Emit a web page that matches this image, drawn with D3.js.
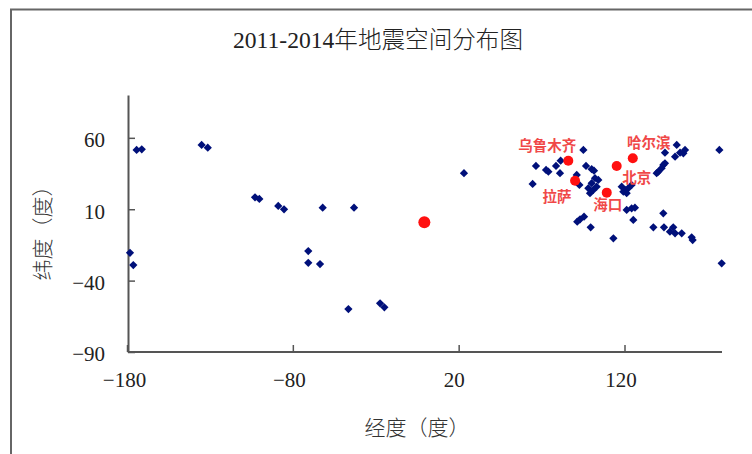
<!DOCTYPE html>
<html>
<head>
<meta charset="utf-8">
<script src="https://cdn.jsdelivr.net/npm/d3@7/dist/d3.min.js"></script>
<style>
  html, body { margin: 0; padding: 0; background: #fff; }
  svg { display: block; }
  .num { font-family: "Liberation Serif", "Noto Sans CJK SC", serif; }
  .cjk { font-family: "Liberation Serif", "Noto Sans CJK SC", serif; font-weight: 300; }
</style>
</head>
<body>
<svg id="chart" width="752" height="454"></svg>
<script>
// ---- data ----
const title = "2011-2014年地震空间分布图";
const xTitle = "经度（度）";
const yTitle = "纬度（度）";
const xTicks = [-180, -80, 20, 120];
const yTicks = [-90, -40, 10, 60];

// earthquake epicentres [longitude, latitude]
const quakeLon = [
  -174.2, -171.1, -135.0, -131.3, -102.8, -100.2, -88.8, -85.3, -62.0, -43.1, 23.2,
  -178.2, -176.2, -70.7, -70.7, -63.6, -46.5, -27.4, -24.8,
  95.2, 66.6, 72.7, 74.1, 78.7, 81.5, 81.1, 64.6, 96.8, 100.2, 101.6, 91.2, 92.8,
  102.2, 100.2, 98.2, 99.2, 103.2, 104.2, 101.2,
  118.3, 120.3, 122.3, 124.3, 119.3, 121.3,
  140.4, 142.4, 143.4, 139.4, 144.4, 144.4,
  151.5, 153.5, 155.5, 150.5, 156.5, 177.2,
  121.3, 124.3, 126.3, 125.3, 143.4, 137.4, 143.8, 149.4, 147.4, 150.5, 154.5,
  160.5, 161.1, 93.2, 91.5, 95.6, 99.6, 113.3, 178.6
];
const quakeLat = [
  51.5, 52.0, 55.0, 53.1, 18.3, 17.2, 12.3, 9.9, 11.1, 11.1, 35.2,
  -20.5, -29.1, -19.3, -27.5, -28.4, -59.9, -55.9, -58.7,
  51.5, 40.3, 37.5, 36.3, 40.3, 44.0, 35.2, 27.7, 40.3, 38.0, 37.0, 34.0, 27.0,
  31.7, 28.2, 24.7, 21.2, 25.8, 30.5, 23.5,
  25.8, 23.5, 24.7, 27.0, 22.3, 21.2,
  36.3, 38.7, 41.0, 35.2, 42.2, 49.6,
  55.0, 49.6, 49.2, 46.8, 51.5, 51.5,
  9.5, 10.6, 11.1, 2.5, 7.1, -2.7, -2.7, -2.7, -5.7, -6.9, -6.9,
  -9.7, -11.6, 2.9, 1.3, 4.8, -2.7, -10.4, -27.9
];

// reference cities
const cityNames = ["乌鲁木齐", "拉萨", "北京", "哈尔滨", "海口", ""];
const cityLon = [86.1, 90.2, 115.3, 125.0, 109.3, -0.7];
const cityLat = [44.0, 30.0, 40.3, 45.7, 21.6, 0.8];

// ---- layout / style ----
const svg = d3.select("#chart");
const x = d3.scaleLinear().domain([-180, 180]).range([127, 724]);
const y = d3.scaleLinear().domain([-90, 90]).range([352, 95]);
const axisColor = "#555";
const labelOffset = { "乌鲁木齐": [-21, -16], "拉萨": [-18, 15], "北京": [20, 11], "哈尔滨": [16, -17], "海口": [1, 11] };

// outer frame (left + top edges visible)
svg.append("path")
  .attr("d", "M11,454 L11,9.5 L752,9.5")
  .attr("fill", "none").attr("stroke", "#666").attr("stroke-width", 2);

// title
svg.append("text").attr("class", "cjk")
  .attr("x", 378).attr("y", 40)
  .attr("text-anchor", "middle").attr("dominant-baseline", "central")
  .attr("font-size", 24).attr("fill", "#222")
  .attr("textLength", 290).attr("lengthAdjust", "spacingAndGlyphs")
  .text(title);

// axes
const xAxis = d3.axisBottom(x).tickValues(xTicks).tickSizeInner(-7).tickSizeOuter(0).tickFormat(d3.format("d"));
const gx = svg.append("g").attr("transform", `translate(0,${y(-90)})`).call(xAxis);
gx.select(".domain").attr("stroke", axisColor).attr("stroke-width", 2)
  .attr("d", `M${x(-180) + 1},0H${x(180) - 2}`);
gx.selectAll(".tick line").attr("stroke", axisColor).attr("stroke-width", 1.5);
gx.selectAll(".tick text").attr("class", "num").attr("font-size", 21).attr("fill", "#222")
  .attr("y", 35).attr("dy", 0).text(d => d < 0 ? "\u2212" + Math.abs(d) : d)
  .attr("dx", d => d === -180 ? -3 : (d === 20 ? -5 : -4));

const yAxis = d3.axisLeft(y).tickValues(yTicks).tickSizeInner(-7).tickSizeOuter(0);
const gy = svg.append("g").attr("transform", `translate(${x(-180) + 1},0)`).call(yAxis);
gy.select(".domain").attr("stroke", axisColor).attr("stroke-width", 2);
gy.selectAll(".tick line").attr("stroke", axisColor).attr("stroke-width", 1.5);
gy.selectAll(".tick text").attr("class", "num").attr("font-size", 21).attr("fill", "#222")
  .attr("x", -23).attr("dy", "0.42em").text(d => d < 0 ? "\u2212" + Math.abs(d) : d);

// axis titles
svg.append("text").attr("class", "cjk")
  .attr("x", 417).attr("y", 428)
  .attr("text-anchor", "middle").attr("dominant-baseline", "central")
  .attr("font-size", 21).attr("fill", "#333")
  .text(xTitle);
svg.append("text").attr("class", "cjk")
  .attr("transform", "translate(43,228) rotate(-90)")
  .attr("text-anchor", "middle").attr("dominant-baseline", "central")
  .attr("font-size", 21).attr("fill", "#333")
  .text(yTitle);

// earthquake diamonds (square rotated 45 degrees)
const quakes = quakeLon.map((lon, i) => ({ lon, lat: quakeLat[i] }));
const diamond = d3.symbol().type(d3.symbolSquare).size(34);
svg.append("g").selectAll("path").data(quakes).join("path")
  .attr("d", diamond)
  .attr("transform", d => `translate(${x(d.lon)},${y(d.lat)}) rotate(45)`)
  .attr("fill", "#00107a");

// cities
const cities = cityNames.map((name, i) => ({ name, lon: cityLon[i], lat: cityLat[i] }));
svg.append("g").selectAll("circle").data(cities).join("circle")
  .attr("cx", d => x(d.lon)).attr("cy", d => y(d.lat))
  .attr("r", d => d.name ? 5 : 6)
  .attr("fill", "#ff1010");
svg.append("g").selectAll("text").data(cities.filter(d => d.name)).join("text")
  .attr("x", d => x(d.lon) + labelOffset[d.name][0])
  .attr("y", d => y(d.lat) + labelOffset[d.name][1])
  .attr("text-anchor", "middle").attr("dominant-baseline", "central")
  .attr("font-family", "Noto Sans CJK SC, sans-serif").attr("font-weight", 700)
  .attr("font-size", 14.5).attr("fill", "#f04848")
  .text(d => d.name);
</script>
</body>
</html>
